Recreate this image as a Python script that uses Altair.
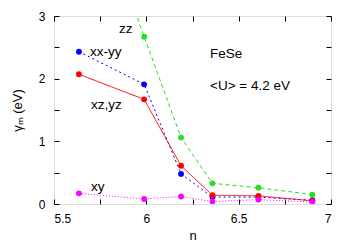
import altair as alt
import pandas as pd

# data
n_vals = [5.635, 5.988, 6.188, 6.358, 6.607, 6.899]
zz = [5.6, 2.67, 1.06, 0.33, 0.26, 0.15]
xxyy = [2.43, 1.91, 0.48, 0.11, 0.11, 0.06]
xzyz = [2.07, 1.67, 0.61, 0.14, 0.13, 0.05]
xy = [0.17, 0.08, 0.12, 0.04, 0.07, 0.03]

series_names = ["xx-yy", "xz,yz", "zz", "xy"]
series_vals = [xxyy, xzyz, zz, xy]
series_colors = ["#0000ff", "#ff0000", "#22e022", "#ff00ff"]
series_dash = [[2, 3], [1, 0], [4, 3], [1, 2]]

ann_text = ["zz", "xx-yy", "xz,yz", "xy", "FeSe", "<U> = 4.2 eV"]
ann_x = [5.852, 5.695, 5.70, 5.70, 6.345, 6.345]
ann_y = [2.79, 2.42, 1.58, 0.27, 2.39, 1.88]

x_ticks = [5.5, 5.75, 6.0, 6.25, 6.5, 6.75, 7.0]
y_ticks = [0, 0.5, 1, 1.5, 2, 2.5, 3]

FONT = "Liberation Sans"
W, H = 277, 188

xscale = alt.Scale(domain=[5.5, 7], nice=False, zero=False)
yscale = alt.Scale(domain=[0, 3], nice=False, zero=False)

x_axis = alt.Axis(values=x_ticks, labelExpr="datum.value % 0.5 == 0 ? format(datum.value, '') : ''",
                  offset=-5, tickSize=5, domain=False, grid=False, labelPadding=9,
                  labelFont=FONT, labelFontSize=12, titleFont=FONT, titleFontSize=13,
                  titleFontWeight="normal", titlePadding=5, tickColor="black",
                  labelColor="black", titleColor="black")
y_axis = alt.Axis(values=y_ticks, labelExpr="datum.value % 1 == 0 ? format(datum.value, '') : ''",
                  offset=-5, tickSize=5, domain=False, grid=False, labelPadding=9,
                  labelFont=FONT, labelFontSize=12, titleFont=FONT, titleFontSize=13,
                  titleFontWeight="normal", titlePadding=14, tickColor="black",
                  labelColor="black", titleColor="black")

x_axis_top = alt.Axis(values=x_ticks, orient="top", offset=-5, tickSize=5, domain=False,
                      grid=False, labels=False, title=None, tickColor="black")
y_axis_right = alt.Axis(values=y_ticks, orient="right", offset=-5, tickSize=5, domain=False,
                        grid=False, labels=False, title=None, tickColor="black")

layers = []
tick_df = pd.DataFrame({"n": [x_ticks[0]], "v": [y_ticks[0]]})
layers.append(
    alt.Chart(tick_df).mark_point(opacity=0).encode(
        x=alt.X("n:Q", scale=xscale, axis=x_axis, title="n"),
        y=alt.Y("v:Q", scale=yscale, axis=y_axis, title="γₘ (eV)"),
    )
)
layers.append(
    alt.Chart(tick_df).mark_point(opacity=0).encode(
        x=alt.X("n:Q", scale=xscale, axis=x_axis_top),
        y=alt.Y("v:Q", scale=yscale, axis=y_axis_right),
    )
)

for name, vals, col, dash in zip(series_names, series_vals, series_colors, series_dash):
    df = pd.DataFrame({"n": n_vals, "v": vals})
    base = alt.Chart(df).encode(
        x=alt.X("n:Q", scale=xscale, axis=None),
        y=alt.Y("v:Q", scale=yscale, axis=None),
    )
    layers.append(base.mark_line(color=col, strokeWidth=1, strokeDash=dash, clip=True))
    layers.append(base.mark_circle(color=col, size=34, opacity=1, clip=True))

ann_df = pd.DataFrame({"n": ann_x, "v": ann_y, "t": ann_text})
layers.append(
    alt.Chart(ann_df).mark_text(align="left", baseline="middle", font=FONT, fontSize=13.5,
                                color="black").encode(
        x=alt.X("n:Q", scale=xscale, axis=None),
        y=alt.Y("v:Q", scale=yscale, axis=None),
        text="t:N",
    )
)

chart = alt.layer(*layers).resolve_axis(x="independent", y="independent").properties(
    width=W, height=H,
    autosize=alt.AutoSizeParams(type="none"),
    padding={"left": 46, "top": 8, "right": 15, "bottom": 41},
).configure_view(stroke="black", strokeWidth=1).configure(background="white")

chart.save("out.html", embed_options={"renderer": "svg", "actions": False})
